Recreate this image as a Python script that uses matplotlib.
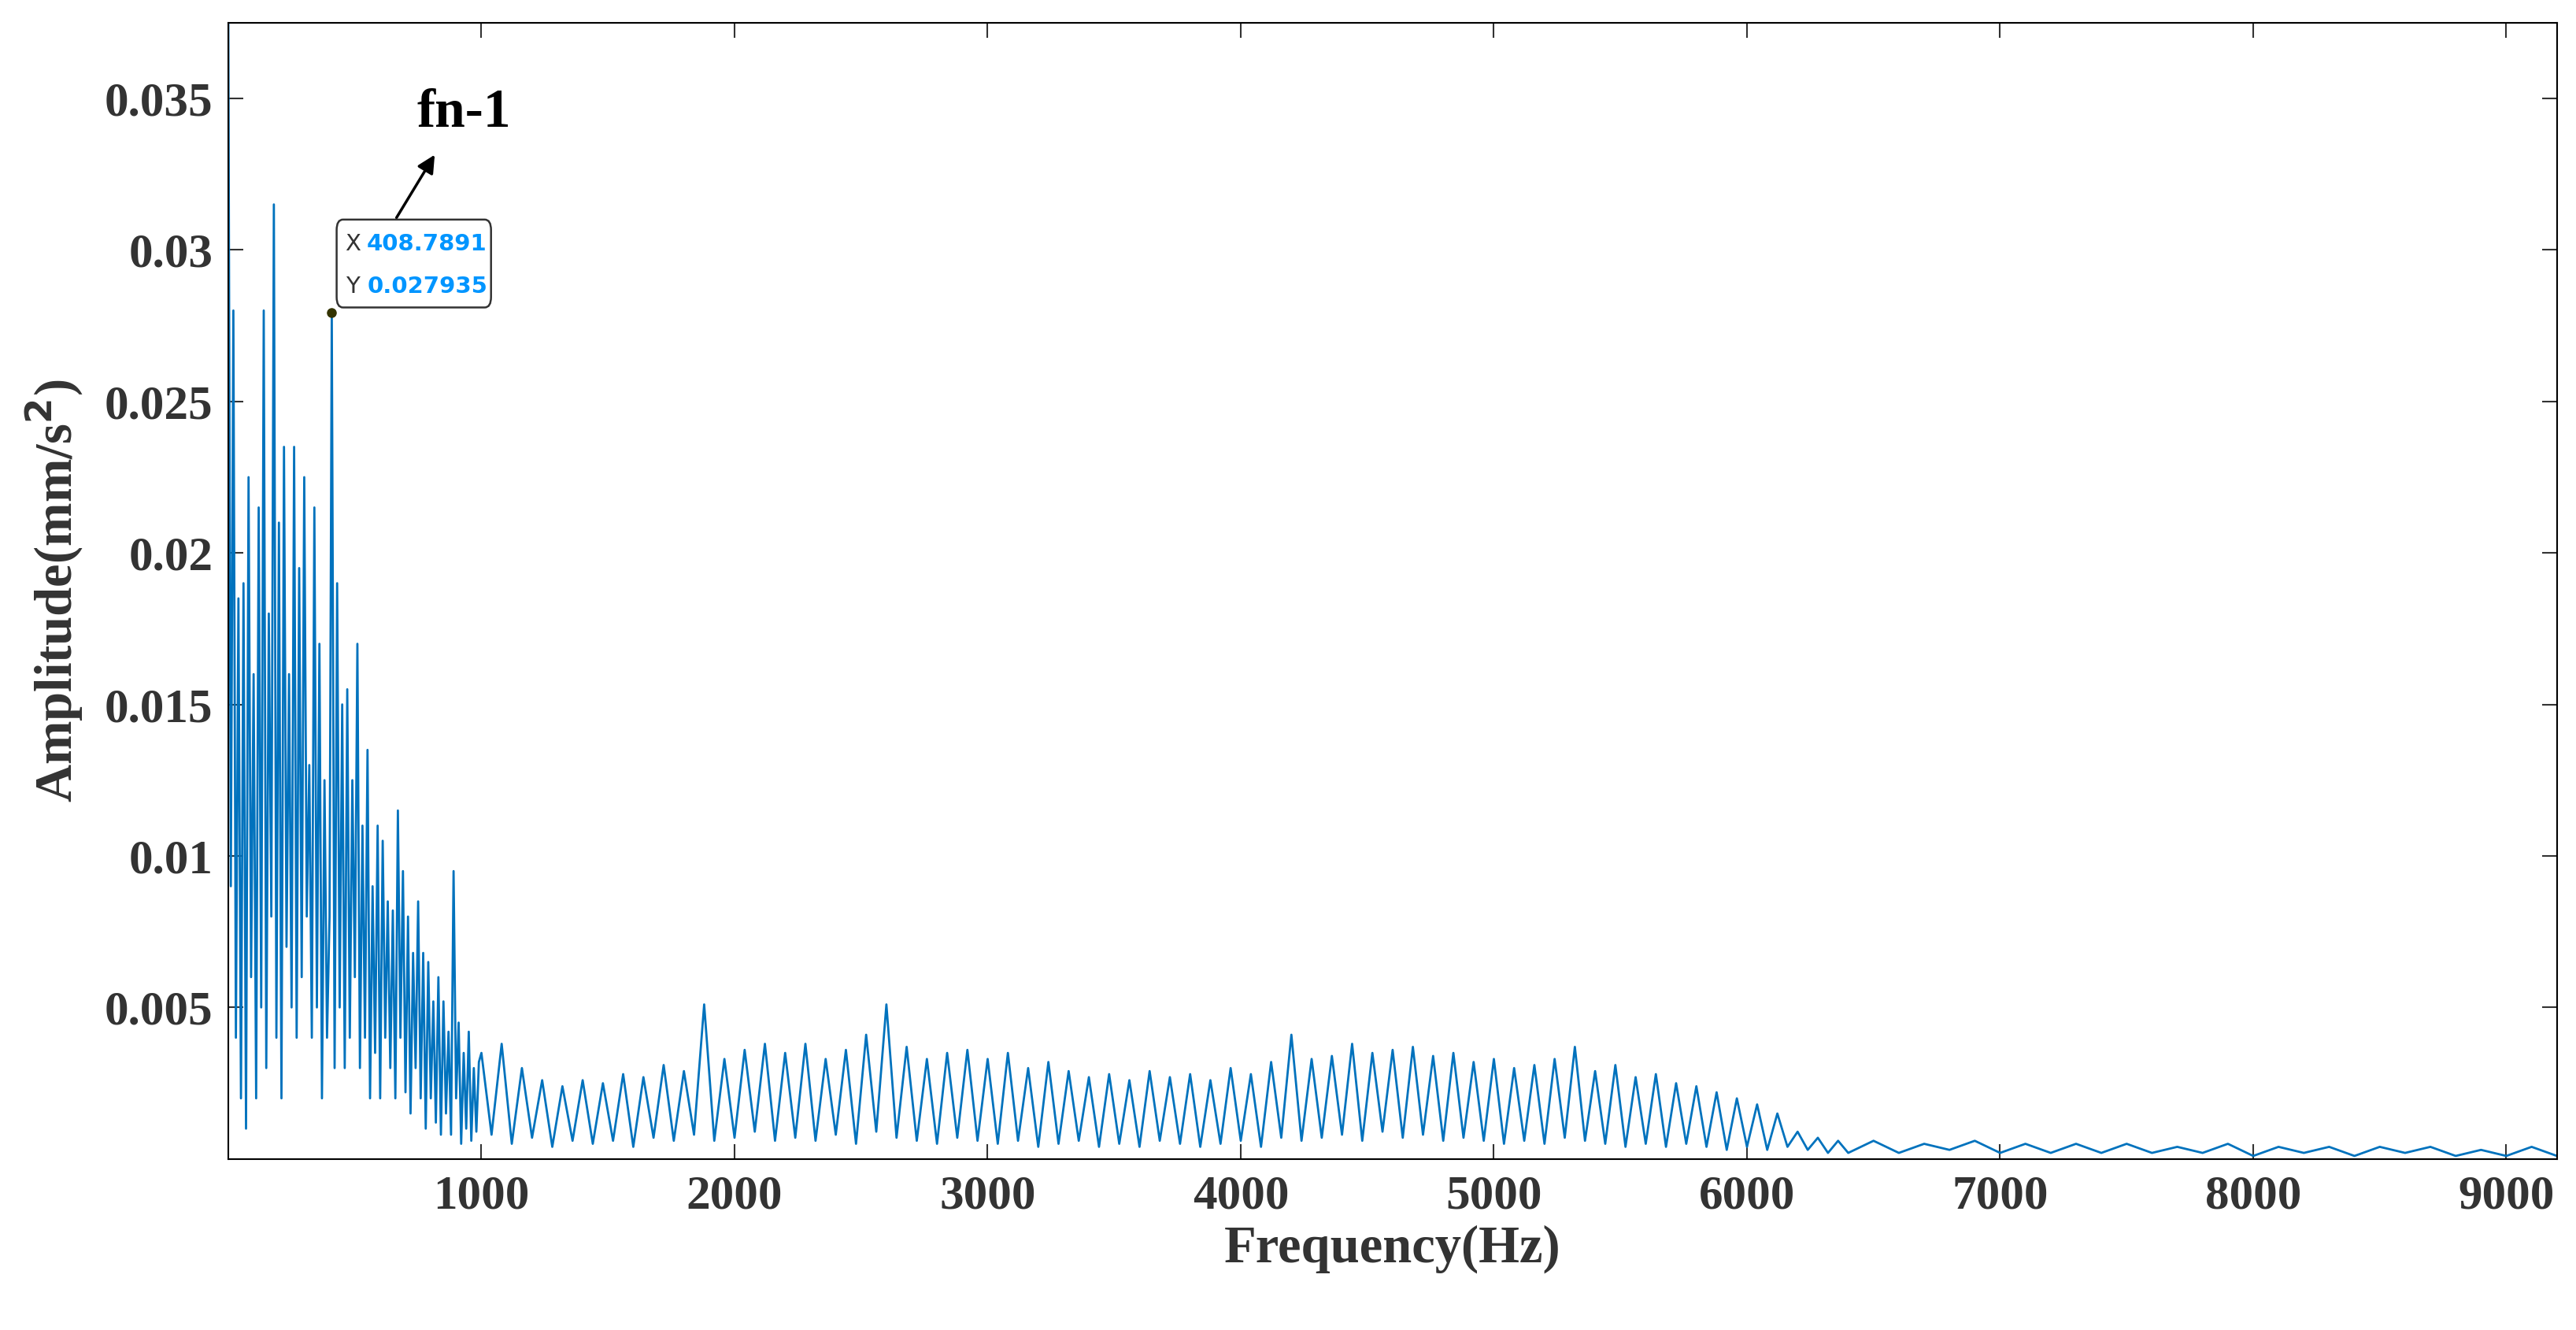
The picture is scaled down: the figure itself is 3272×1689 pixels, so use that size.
import numpy as np
import matplotlib
matplotlib.use("Agg")
import matplotlib.pyplot as plt
from matplotlib.patches import FancyBboxPatch

# low-frequency band (explicit frequencies, Hz)
freq_low = [0,10,20,30,40,50,60,70,80,90,100,110,120,130,140,150,160,170,180,190,200,210,220,230,240,250,260,270,280,290,300,310,320,330,340,350,360,370,380,390,400,408.7891,420,430,440,450,460,470,480,490,500,510,520,530,540,550,560,570,580,590,600,610,620,630,640,650,660,670,680,690,700,710,720,730,740,750,760,770,780,790,800,810,820,830,840,850,860,870,880,890,900,910,920,930,940,950,960,970,980,990]
amp_low = [0.0375,0.009,0.028,0.004,0.0185,0.002,0.019,0.001,0.0225,0.006,0.016,0.002,0.0215,0.005,0.028,0.003,0.018,0.008,0.0315,0.004,0.021,0.002,0.0235,0.007,0.016,0.005,0.0235,0.004,0.0195,0.006,0.0225,0.008,0.013,0.004,0.0215,0.005,0.017,0.002,0.0125,0.004,0.008,0.027935,0.003,0.019,0.005,0.015,0.003,0.0155,0.004,0.0125,0.006,0.017,0.003,0.011,0.004,0.0135,0.002,0.009,0.0035,0.011,0.002,0.0105,0.004,0.0085,0.003,0.0082,0.002,0.0115,0.004,0.0095,0.0022,0.008,0.0015,0.0068,0.003,0.0085,0.002,0.0068,0.001,0.0065,0.002,0.0052,0.0012,0.006,0.0008,0.0052,0.0015,0.0042,0.0008,0.0095,0.002,0.0045,0.0005,0.0035,0.001,0.0042,0.0006,0.003,0.0009,0.0032]

# mid band 1000-6360 Hz, 40 Hz spacing
amp_mid = [0.0035,0.0008,0.0038,0.0005,0.003,0.0007,0.0026,0.0004,0.0024,0.0006,
           0.0026,0.0005,0.0025,0.0006,0.0028,0.0004,0.0027,0.0007,0.0031,0.0006,
           0.0029,0.0008,0.0051,0.0006,0.0033,0.0007,0.0036,0.0009,0.0038,0.0006,
           0.0035,0.0007,0.0038,0.0006,0.0033,0.0008,0.0036,0.0005,0.0041,0.0009,
           0.0051,0.0007,0.0037,0.0006,0.0033,0.0005,0.0035,0.0007,0.0036,0.0006,
           0.0033,0.0005,0.0035,0.0006,0.003,0.0004,0.0032,0.0005,0.0029,0.0006,
           0.0027,0.0004,0.0028,0.0005,0.0026,0.0004,0.0029,0.0006,0.0027,0.0005,
           0.0028,0.0004,0.0026,0.0005,0.003,0.0006,0.0028,0.0004,0.0032,0.0007,
           0.0041,0.0006,0.0033,0.0007,0.0034,0.0008,0.0038,0.0006,0.0035,0.0009,
           0.0036,0.0007,0.0037,0.0008,0.0034,0.0006,0.0035,0.0007,0.0032,0.0006,
           0.0033,0.0005,0.003,0.0006,0.0031,0.0005,0.0033,0.0007,0.0037,0.0006,
           0.0029,0.0005,0.0031,0.0004,0.0027,0.0005,0.0028,0.0004,0.0025,0.0005,
           0.0024,0.0004,0.0022,0.0003,0.002,0.0004,0.0018,0.0003,0.0015,0.0004,
           0.0009,0.0003,0.0007,0.0002,0.0006]
freq_mid = np.arange(1000, 1000 + 40 * len(amp_mid), 40)

# high band 6400-9200 Hz, 100 Hz spacing
amp_high = [0.0002,0.0006,0.0002,0.0005,0.0003,0.0006,0.0002,0.0005,0.0002,0.0005,
            0.0002,0.0005,0.0002,0.0004,0.0002,0.0005,0.0001,0.0004,0.0002,0.0004,
            0.0001,0.0004,0.0002,0.0004,0.0001,0.0003,0.0001,0.0004,0.0001]
freq_high = np.arange(6400, 6400 + 100 * len(amp_high), 100)

freq = np.concatenate([freq_low, freq_mid, freq_high])
amp = np.concatenate([amp_low, amp_mid, amp_high])

xticks = [1000,2000,3000,4000,5000,6000,7000,8000,9000]
yticks = [0.005,0.01,0.015,0.02,0.025,0.03,0.035]
ytick_labels = ["0.005","0.01","0.015","0.02","0.025","0.03","0.035"]

plt.rcParams['font.family'] = ['Liberation Serif', 'DejaVu Serif']
fig = plt.figure(figsize=(32.73, 16.89), dpi=100)
ax = fig.add_axes([0.0886, 0.1286, 0.9037, 0.8544])
ax.plot(freq, amp, color='#0072BD', lw=2.0)
ax.set_xlim(0, 9200)
ax.set_ylim(0, 0.0375)
ax.set_xticks(xticks)
ax.set_yticks(yticks)
ax.set_yticklabels(ytick_labels)
ax.tick_params(direction='in', top=True, right=True, length=14, width=1.5,
               labelsize=44, colors='#333333', pad=14)
for lab in ax.get_xticklabels() + ax.get_yticklabels():
    lab.set_fontweight('bold')
for s in ax.spines.values():
    s.set_linewidth(1.5)
ax.set_xlabel('Frequency(Hz)', fontsize=48, fontweight='bold', color='#333333', labelpad=6)
ax.set_ylabel('Amplitude(mm/s$^\\mathbf{2}$)', fontsize=48, fontweight='bold', color='#333333', labelpad=18)

# data tip
ax.plot([408.7891], [0.027935], 'o', color='#333300', ms=8, zorder=6)
ax.annotate('', xy=(820, 0.0332), xytext=(660, 0.0310),
            arrowprops=dict(arrowstyle='-|>', color='black', lw=2.5, mutation_scale=34))
ax.text(930, 0.0345, 'fn-1', fontsize=50, fontweight='bold', ha='center', va='center')
box = FancyBboxPatch((428, 0.0281), 610, 0.0029,
                     boxstyle='round,pad=0,rounding_size=25', mutation_aspect=0.0375/9200*3.4,
                     fc='white', ec='#333333', lw=1.8, zorder=4)
ax.add_patch(box)
ax.text(462, 0.0302, 'X', fontsize=21, family='DejaVu Sans', color='#333333', va='center', zorder=5)
ax.text(548, 0.0302, '408.7891', fontsize=21, family='DejaVu Sans', color='#0095FF',
        fontweight='bold', va='center', zorder=5)
ax.text(462, 0.0288, 'Y', fontsize=21, family='DejaVu Sans', color='#333333', va='center', zorder=5)
ax.text(548, 0.0288, '0.027935', fontsize=21, family='DejaVu Sans', color='#0095FF',
        fontweight='bold', va='center', zorder=5)

fig.savefig('out.png', dpi=100, facecolor='white')
